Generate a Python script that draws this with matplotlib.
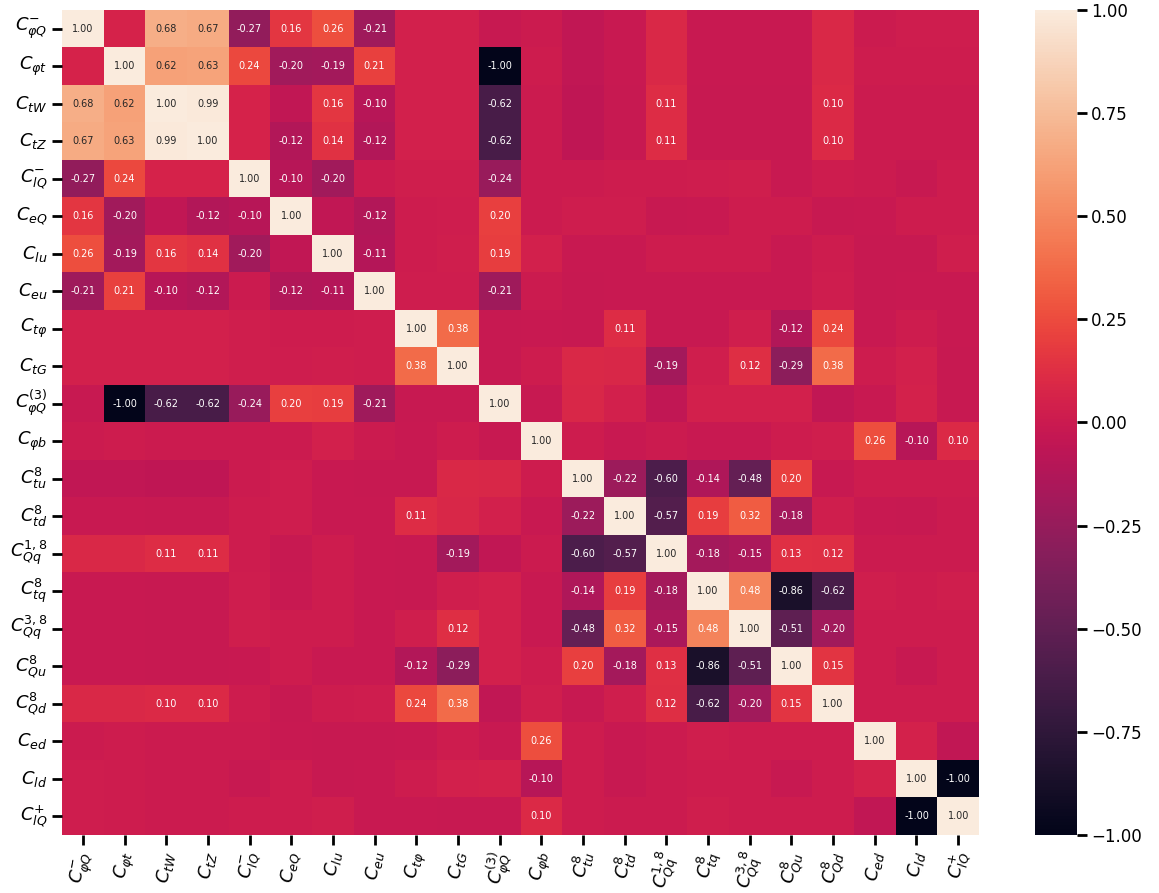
import numpy as np
import seaborn as sns
from matplotlib import pyplot as plt

labels = [r"$C_{\varphi Q}^{-}$", r"$C_{\varphi t}$", r"$C_{tW}$", r"$C_{tZ}$",
          r"$C_{lQ}^{-}$", r"$C_{eQ}$", r"$C_{lu}$", r"$C_{eu}$",
          r"$C_{t\varphi}$", r"$C_{tG}$", r"$C_{\varphi Q}^{(3)}$", r"$C_{\varphi b}$",
          r"$C_{tu}^{8}$", r"$C_{td}^{8}$", r"$C_{Qq}^{1,8}$", r"$C_{tq}^{8}$",
          r"$C_{Qq}^{3,8}$", r"$C_{Qu}^{8}$", r"$C_{Qd}^{8}$", r"$C_{ed}$",
          r"$C_{ld}$", r"$C_{lQ}^{+}$"]

# upper triangle of the correlation matrix, row by row (diagonal excluded)
upper = [
    [0.06, 0.68, 0.67, -0.27, 0.16, 0.26, -0.21, 0.04, 0.04, -0.02, 0.00, -0.05, -0.01, 0.09, -0.01, -0.01, -0.01, 0.09, 0.00, 0.02, 0.02],
    [0.62, 0.63, 0.24, -0.20, -0.19, 0.21, 0.04, 0.04, -1.00, 0.01, -0.05, -0.01, 0.09, -0.01, -0.01, -0.01, 0.09, 0.01, 0.01, 0.01],
    [0.99, 0.06, -0.05, 0.16, -0.10, 0.04, 0.04, -0.62, 0.00, -0.06, -0.02, 0.11, -0.02, -0.02, -0.02, 0.10, 0.00, 0.00, 0.00],
    [0.06, -0.12, 0.14, -0.12, 0.04, 0.04, -0.62, 0.00, -0.06, -0.02, 0.11, -0.02, -0.02, -0.02, 0.10, 0.00, 0.00, 0.00],
    [-0.10, -0.20, 0.00, 0.03, 0.03, -0.24, 0.00, 0.00, 0.01, 0.01, 0.02, 0.03, -0.01, 0.01, 0.00, -0.02, 0.01],
    [-0.05, -0.12, 0.01, 0.02, 0.20, 0.00, 0.02, 0.02, -0.02, -0.01, 0.01, 0.01, -0.02, -0.01, 0.01, 0.01],
    [-0.11, 0.01, 0.03, 0.19, 0.04, -0.01, -0.01, 0.01, 0.01, 0.01, -0.01, 0.01, -0.02, -0.02, 0.03],
    [0.02, 0.02, -0.21, 0.00, -0.02, -0.01, -0.01, -0.01, -0.01, -0.01, 0.02, -0.02, -0.01, -0.01],
    [0.38, -0.02, -0.01, -0.02, 0.11, -0.02, -0.02, 0.03, -0.12, 0.24, -0.01, 0.01, -0.01],
    [-0.02, 0.01, 0.09, 0.08, -0.19, 0.03, 0.12, -0.29, 0.38, 0.01, 0.04, -0.02],
    [-0.02, 0.08, 0.04, -0.05, 0.04, 0.04, 0.04, -0.05, -0.01, 0.05, -0.02],
    [0.01, -0.01, 0.00, -0.01, -0.01, 0.01, 0.03, 0.26, -0.10, 0.10],
    [-0.22, -0.60, -0.14, -0.48, 0.20, -0.02, 0.01, 0.01, 0.01],
    [-0.57, 0.19, 0.32, -0.18, 0.03, -0.01, -0.02, 0.00],
    [-0.18, -0.15, 0.13, 0.12, 0.00, 0.00, 0.00],
    [0.48, -0.86, -0.62, 0.03, 0.01, 0.03],
    [-0.51, -0.20, 0.01, 0.01, 0.01],
    [0.15, 0.01, -0.02, 0.01],
    [0.01, 0.01, 0.01],
    [0.05, -0.05],
    [-1.00],
]
cbar_ticks = [-1, -0.75, -0.5, -0.25, 0, 0.25, 0.5, 0.75, 1]

n = len(labels)
corr = np.eye(n)
for i, row in enumerate(upper):
    for k, v in enumerate(row):
        j = i + 1 + k
        corr[i, j] = v
        corr[j, i] = v

# only label the entries with a noticeable correlation
annot = np.where(np.abs(corr) >= 0.095, np.vectorize(lambda v: "{:.2f}".format(v))(corr), "")

fig = plt.figure(figsize=(11.59, 8.93), dpi=100)
ax = fig.add_axes([0.0535, 0.065, 0.7912, 0.9238])
cax = fig.add_axes([0.893, 0.065, 0.036, 0.9238])

sns.heatmap(corr, ax=ax, cbar_ax=cax, vmin=-1, vmax=1, annot=annot, fmt="",
            annot_kws={"fontsize": 7}, xticklabels=labels, yticklabels=labels)

ax.tick_params(axis="both", labelsize=13, length=7, width=2)
ax.set_xticklabels(labels, rotation=80)
ax.set_yticklabels(labels, rotation=0)

cax.set_yticks(cbar_ticks)
cax.set_yticklabels(["{:.2f}".format(t).replace("-", "\u2212") for t in cbar_ticks])
cax.tick_params(labelsize=12, length=7, width=2)

fig.savefig("out.png", dpi=100)
plt.close()
